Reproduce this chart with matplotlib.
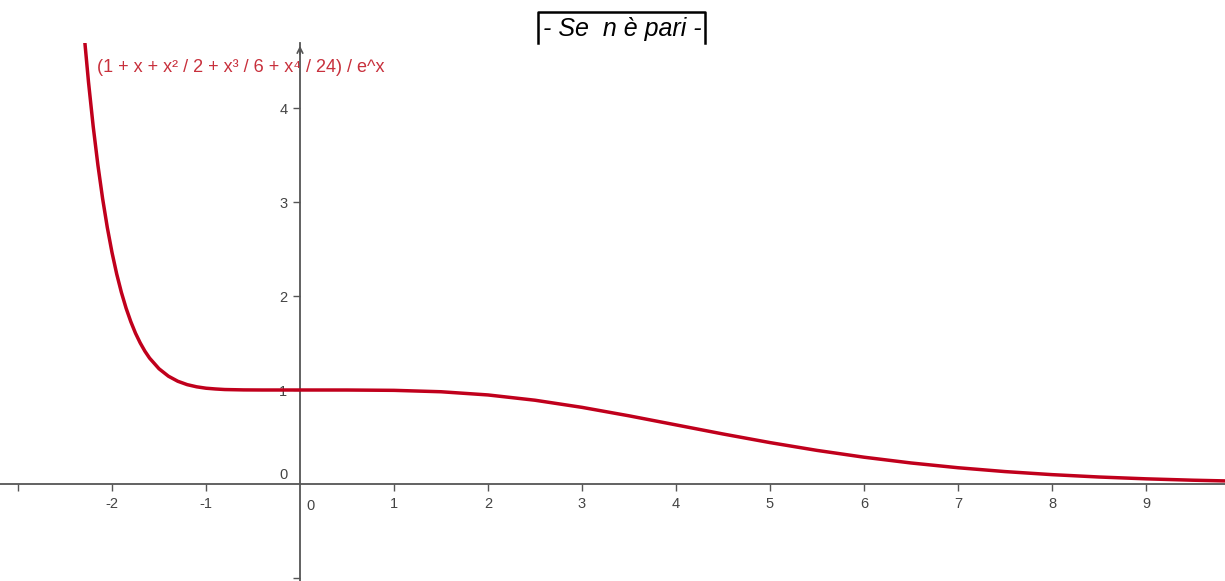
import matplotlib
matplotlib.use("Agg")
import matplotlib.pyplot as plt
from matplotlib.lines import Line2D

plt.rcParams['font.family'] = ['Liberation Sans', 'DejaVu Sans']

# points (1 + x + x^2/2 + x^3/6 + x^4/24) / e^x
x_vals = [-2.40, -2.35, -2.30, -2.25, -2.20, -2.15, -2.10, -2.05, -2.00,
          -1.95, -1.90, -1.85, -1.80, -1.75, -1.70, -1.65, -1.60, -1.50,
          -1.40, -1.30, -1.20, -1.10, -1.00, -0.90, -0.80, -0.60, -0.40,
          -0.20, 0.0, 0.5, 1.0, 1.5, 2.0, 2.5, 3.0, 3.5, 4.0, 4.5, 5.0,
          5.5, 6.0, 6.5, 7.0, 7.5, 8.0, 8.5, 9.0, 9.5, 10.0]
y_vals = [6.155, 5.442, 4.819, 4.276, 3.803, 3.393, 3.037, 2.729, 2.463,
          2.234, 2.038, 1.870, 1.727, 1.604, 1.501, 1.413, 1.339, 1.226,
          1.147, 1.093, 1.057, 1.034, 1.019, 1.011, 1.005, 1.001, 1.000,
          1.000, 1.000, 0.9998, 0.9963, 0.9814, 0.9474, 0.8912, 0.8153,
          0.7254, 0.6288, 0.5321, 0.4405, 0.3575, 0.2851, 0.2237, 0.1730,
          0.1321, 0.0996, 0.0744, 0.0550, 0.0403, 0.0293]

x_ticks = [-3, -2, -1, 1, 2, 3, 4, 5, 6, 7, 8, 9]
x_labels = ['', '-2', '-1', '1', '2', '3', '4', '5', '6', '7', '8', '9']
y_ticks = [-1, 1, 2, 3, 4]
y_labels = ['', '1', '2', '3', '4']

curve_label = '(1 + x + x\u00b2 / 2 + x\u00b3 / 6 + x\u2074 / 24) / e^x'
title = '- Se  n è pari -'

W, H = 1225, 581
fig = plt.figure(figsize=(W / 100, H / 100), dpi=100)
ax = fig.add_axes([0, 0, 1, (H - 43) / H])

unit = 94.0
ax.set_xlim(-300 / unit, (W - 300) / unit)
ax.set_ylim(-(H - 484) / unit, 441 / unit)

ax.plot(x_vals, y_vals, color='#c0001c', lw=2.5, solid_capstyle='round', zorder=3)

axis_col = '#555555'
lab_col = '#444444'
for s in ['top', 'right']:
    ax.spines[s].set_visible(False)
for s in ['left', 'bottom']:
    ax.spines[s].set_position('zero')
    ax.spines[s].set_color(axis_col)
    ax.spines[s].set_linewidth(1.3)

ax.set_xticks(x_ticks)
ax.set_xticklabels(x_labels)
ax.set_yticks(y_ticks)
ax.set_yticklabels(y_labels)
ax.tick_params(axis='x', direction='out', length=5, width=1, color=axis_col,
               labelsize=10.5, labelcolor=lab_col, pad=4.5)
ax.tick_params(axis='y', direction='out', length=5, width=1, color=axis_col,
               labelsize=10.5, labelcolor=lab_col, pad=4)

# origin labels
ax.text(-0.13, 0.02, '0', ha='right', va='bottom', fontsize=10.5, color=lab_col)
ax.text(0.07, -0.16, '0', ha='left', va='top', fontsize=10.5, color=lab_col)

# arrow at the top of the y axis
ax.annotate('', xy=(0, 441 / unit), xytext=(0, 441 / unit - 0.15),
            arrowprops=dict(arrowstyle='->', color=axis_col, lw=1.2),
            annotation_clip=False)

fig.text(97 / W, 1 - 67 / H, curve_label, color='#c8303c', fontsize=13,
         ha='left', va='center')

# title box, open at the bottom
bl, br, bt, bb = 538 / W, 705 / W, 1 - 12 / H, 1 - 43 / H
fig.add_artist(Line2D([bl, bl, br, br], [bb, bt, bt, bb], color='black', lw=1.8))
fig.text(622 / W, 1 - 29 / H, title, fontsize=18, style='italic',
         ha='center', va='center', color='black')

fig.savefig('out.png', dpi=100)
